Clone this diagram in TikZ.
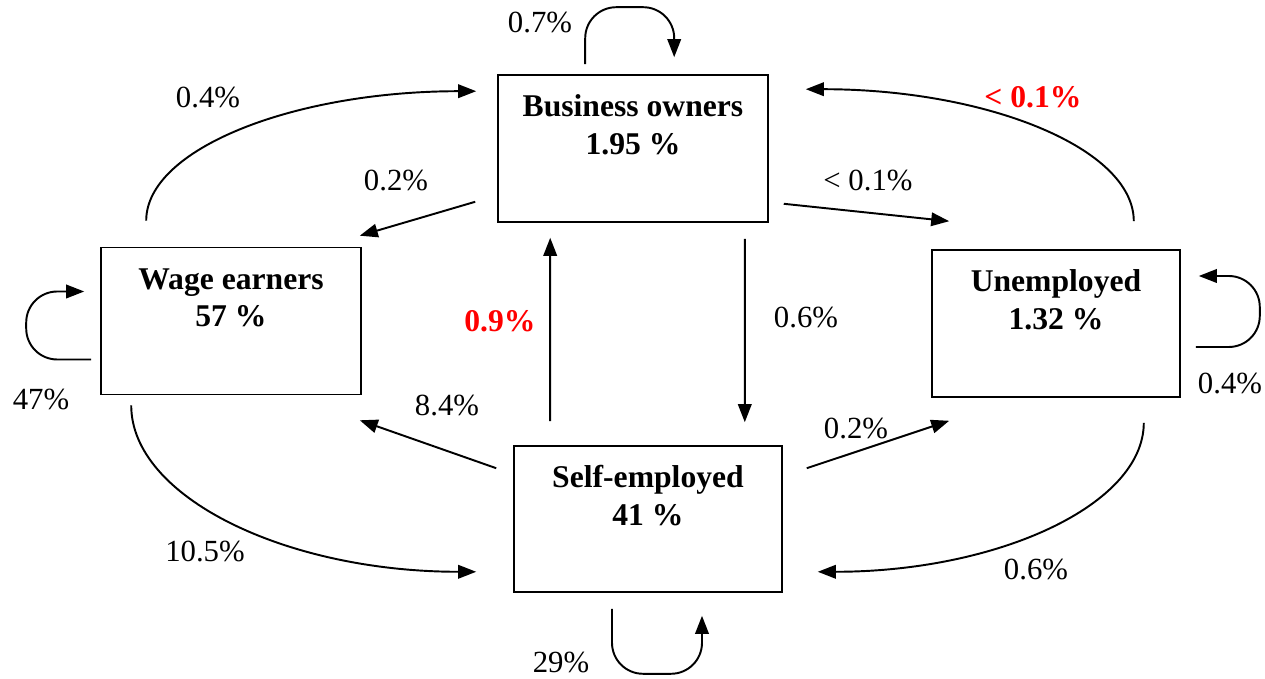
\documentclass[tikz,border=0pt]{standalone}
\usepackage{fontspec}
\setmainfont{Liberation Serif}
\usetikzlibrary{positioning,arrows.meta}
\newcommand\diagfont{\fontsize{17.5}{22}\selectfont}
\newcommand\titlefont{\fontsize{18}{21.5}\selectfont\bfseries}
\tikzset{
  statebox/.style={draw, line width=0.9pt, minimum width=5.2cm, minimum height=2.94cm},
  boxtitle/.style={font=\titlefont, align=center, inner sep=0pt},
  flowarrow/.style={-{Triangle[length=3.6mm, width=2.7mm]}, line width=1.1pt},
  looparrow/.style={flowarrow, rounded corners=0.62cm},
  pct/.style={inner sep=1pt},
  hotpct/.style={pct, text=red, font=\titlefont}
}

\begin{document}
\begin{tikzpicture}[font=\diagfont]
  \useasboundingbox (0,0) rectangle (25.3,-13.58);
  \node[statebox, minimum width=5.4cm] (bo) at (12.66,-2.97) {};
  \node[statebox, minimum width=5.2cm] (wage) at (4.62,-6.42) {};
  \node[statebox, minimum width=4.96cm] (unemp) at (21.12,-6.47) {};
  \node[statebox, minimum width=5.36cm, minimum height=2.92cm] (self) at (12.96,-10.38) {};
  \node[boxtitle, below=0.31cm of bo.north] (bo-title) {\strut Business owners\\1.95 \%};
  \node[boxtitle, below=0.31cm of wage.north] (wage-title) {\strut Wage earners\\57 \%};
  \node[boxtitle, below=0.31cm of unemp.north] (unemp-title) {\strut Unemployed\\1.32 \%};
  \node[boxtitle, below=0.31cm of self.north] (self-title) {\strut Self-employed\\41 \%};
  % staying in the same state
  \draw[looparrow] ([shift={(1.76,0.2)}]bo.north west) |- ([shift={(3.54,1.34)}]bo.north west) -- ([shift={(3.54,0.34)}]bo.north west);
  \draw[looparrow] ([shift={(-0.18,-0.77)}]wage.west) -| ([shift={(-1.48,0.59)}]wage.west) -- ([shift={(-0.32,0.59)}]wage.west);
  \draw[looparrow] ([shift={(0.3,-0.47)}]unemp.east) -| ([shift={(1.58,0.95)}]unemp.east) -- ([shift={(0.36,0.95)}]unemp.east);
  \draw[looparrow] ([shift={(-0.72,-0.32)}]self.south) |- ([shift={(1.08,-1.62)}]self.south) -- ([shift={(1.08,-0.46)}]self.south);
  % straight moves
  \draw[flowarrow] ([shift={(-0.44,0.42)}]bo.south west) -- ([shift={(-0.04,0.22)}]wage.north east);
  \draw[flowarrow] ([shift={(0.3,0.38)}]bo.south east) -- ([shift={(0.36,0.56)}]unemp.north west);
  \draw[flowarrow] ([shift={(0.74,0.48)}]self.north west) -- ([shift={(1.06,-0.3)}]bo.south west);
  \draw[flowarrow] ([shift={(-0.48,-0.32)}]bo.south east) -- ([shift={(-0.76,0.46)}]self.north east);
  \draw[flowarrow] ([shift={(-0.34,-0.46)}]self.north west) -- ([shift={(-0.04,-0.5)}]wage.south east);
  \draw[flowarrow] ([shift={(0.48,-0.46)}]self.north east) -- ([shift={(0.36,-0.46)}]unemp.south west);
  % curved moves around the outside
  \draw[flowarrow] ([shift={(0.92,0.52)}]wage.north west) .. controls +(0,1.44) and +(-3.64,0) .. ([shift={(-0.42,-0.34)}]bo.north west);
  \draw[flowarrow] ([shift={(-0.94,0.56)}]unemp.north east) .. controls +(0,1.46) and +(3.62,0) .. ([shift={(0.74,-0.3)}]bo.north east);
  \draw[flowarrow] ([shift={(0.62,-0.2)}]wage.south west) .. controls +(0,-1.84) and +(-3.8,0) .. ([shift={(-0.74,0.42)}]self.south west);
  \draw[flowarrow] ([shift={(-0.74,-0.5)}]unemp.south east) .. controls +(0,-1.64) and +(3.6,0) .. ([shift={(0.7,0.42)}]self.south east);
  % rates
  \node[pct] (p-bo-bo) at (10.8,-0.44) {0.7\%};
  \node[pct] (p-wage-bo) at (4.16,-1.94) {0.4\%};
  \node[hotpct] (p-unemp-bo) at (20.66,-1.94) {< 0.1\%};
  \node[pct] (p-bo-wage) at (7.92,-3.62) {0.2\%};
  \node[pct] (p-bo-unemp) at (17.36,-3.62) {< 0.1\%};
  \node[hotpct] (p-self-bo) at (10.0,-6.42) {0.9\%};
  \node[pct] (p-bo-self) at (16.12,-6.34) {0.6\%};
  \node[pct] (p-wage-wage) at (0.82,-7.98) {47\%};
  \node[pct] (p-unemp-unemp) at (24.6,-7.66) {0.4\%};
  \node[pct] (p-self-wage) at (8.94,-8.1) {8.4\%};
  \node[pct] (p-self-unemp) at (17.12,-8.56) {0.2\%};
  \node[pct] (p-wage-self) at (4.1,-11.02) {10.5\%};
  \node[pct] (p-unemp-self) at (20.72,-11.38) {0.6\%};
  \node[pct] (p-self-self) at (11.22,-13.24) {29\%};
\end{tikzpicture}
\end{document}
